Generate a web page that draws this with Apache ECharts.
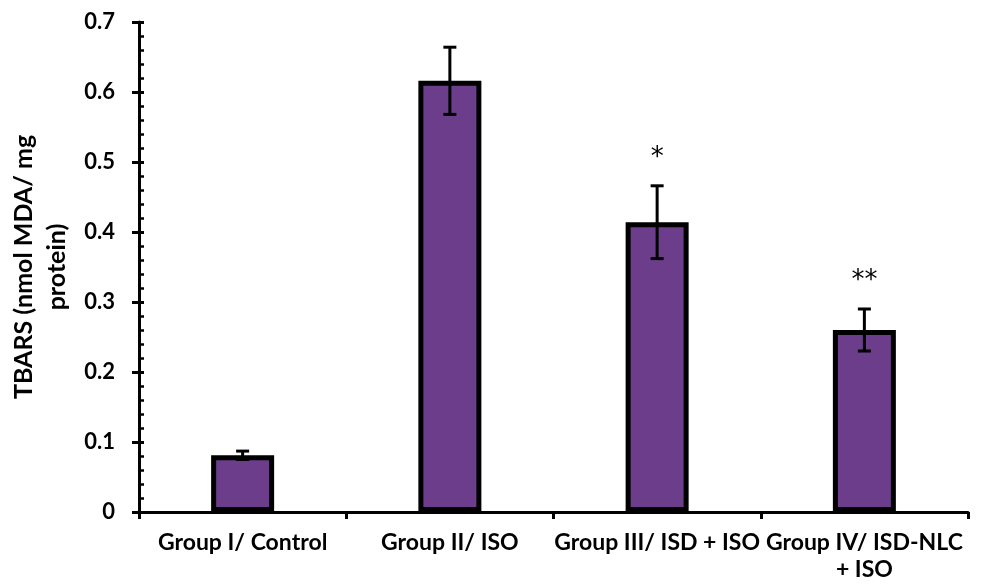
<!DOCTYPE html>
<html>
<head>
<meta charset="utf-8">
<script src="https://cdn.jsdelivr.net/npm/echarts@6/dist/echarts.min.js"></script>
<style>html,body{margin:0;padding:0;background:#fff}#c{width:984px;height:586px}</style>
</head>
<body>
<div id="c"></div>
<script>
var categories = ['Group I/ Control', 'Group II/ ISO', 'Group III/ ISD + ISO', 'Group IV/ ISD-NLC\n+ ISO'];
var means = [0.081, 0.616, 0.414, 0.260];
var errors = [0.006, 0.048, 0.052, 0.030];
var marks = ['', '', '*', '**'];
var yTicks = [0, 0.1, 0.2, 0.3, 0.4, 0.5, 0.6, 0.7];

var FONT = 'Lato';
var errData = means.map(function (m, i) { return [i, m - errors[i], m + errors[i]]; });
var markData = means.map(function (m, i) { return [i, m + errors[i], marks[i]]; });

var chart = echarts.init(document.getElementById('c'), null, {renderer: 'canvas'});
chart.setOption({
  backgroundColor: '#fff',
  animation: false,
  grid: {left: 139, right: 16, top: 22, bottom: 74, containLabel: false, outerBoundsMode: 'none'},
  xAxis: {
    type: 'category',
    data: categories,
    axisLine: {lineStyle: {color: '#000', width: 3}},
    axisTick: {show: true, length: 7, lineStyle: {color: '#000', width: 3}},
    axisLabel: {interval: 0, color: '#000', fontFamily: FONT, fontWeight: 'bold', fontSize: 23, margin: 17, lineHeight: 27}
  },
  yAxis: [{
    type: 'value',
    min: yTicks[0], max: yTicks[yTicks.length - 1], interval: 0.1,
    name: 'TBARS (nmol MDA/ mg\nprotein)',
    nameLocation: 'middle',
    nameGap: 65,
    nameRotate: 90,
    nameTextStyle: {color: '#000', fontFamily: FONT, fontWeight: 'bold', fontSize: 25, lineHeight: 33},
    axisLine: {show: true, lineStyle: {color: '#000', width: 3}},
    axisTick: {show: true, length: 7, lineStyle: {color: '#000', width: 3}},
    splitLine: {show: false},
    axisLabel: {color: '#000', fontFamily: FONT, fontWeight: 'bold', fontSize: 22, margin: 24,
      formatter: function (v) { return String(Math.round(v * 10) / 10); }}
  }, {
    type: 'value', position: 'left',
    min: yTicks[0], max: yTicks[yTicks.length - 1], interval: 0.1,
    axisLine: {show: false},
    axisTick: {show: true, inside: true, length: 5, lineStyle: {color: '#000', width: 3}},
    minorTick: {show: true, splitNumber: 5, length: 5, lineStyle: {color: '#000', width: 2.5}},
    axisLabel: {show: false},
    splitLine: {show: false}
  }],
  series: [{
    type: 'bar',
    data: means,
    barWidth: 63,
    itemStyle: {color: '#6b3d8b', borderColor: '#000', borderWidth: 5},
    z: 2
  }, {
    type: 'custom',
    data: errData,
    z: 5,
    renderItem: function (params, api) {
      var x = api.value(0);
      var lo = api.coord([x, api.value(1)]);
      var hi = api.coord([x, api.value(2)]);
      var hw = 6.5;
      var st = {stroke: '#000', lineWidth: 3};
      return {type: 'group', children: [
        {type: 'line', shape: {x1: lo[0], y1: lo[1], x2: hi[0], y2: hi[1]}, style: st},
        {type: 'line', shape: {x1: lo[0] - hw, y1: lo[1], x2: lo[0] + hw, y2: lo[1]}, style: st},
        {type: 'line', shape: {x1: hi[0] - hw, y1: hi[1], x2: hi[0] + hw, y2: hi[1]}, style: st}
      ]};
    }
  }, {
    type: 'custom',
    data: markData,
    z: 6,
    renderItem: function (params, api) {
      var p = api.coord([api.value(0), api.value(1)]);
      return {type: 'text', style: {
        x: p[0], y: p[1] - 28,
        text: marks[params.dataIndex],
        fill: '#000', font: '26px "DejaVu Sans"',
        textAlign: 'center', textVerticalAlign: 'middle'
      }};
    }
  }]
});
</script>
</body>
</html>
